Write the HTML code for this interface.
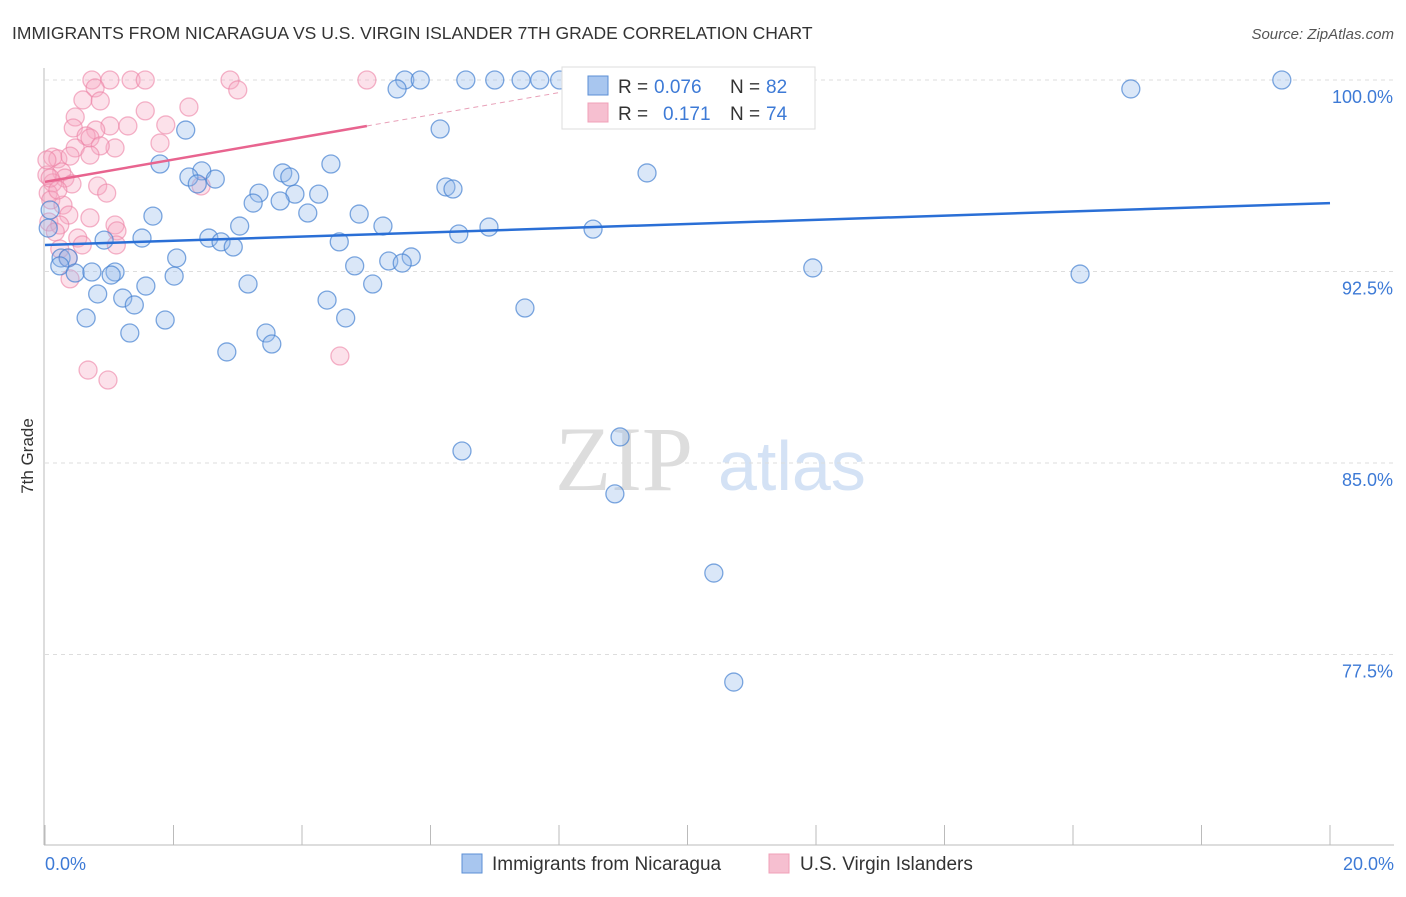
<!DOCTYPE html>
<html><head><meta charset="utf-8"><style>
body{margin:0;background:#fff;font-family:"Liberation Sans",sans-serif}
</style></head><body>
<svg id="chart" width="1406" height="892" xmlns="http://www.w3.org/2000/svg" font-family="Liberation Sans, sans-serif">
<text x="12" y="39" font-size="17.5" fill="#333">IMMIGRANTS FROM NICARAGUA VS U.S. VIRGIN ISLANDER 7TH GRADE CORRELATION CHART</text>
<text x="1394" y="39" font-size="15" fill="#555" text-anchor="end" font-style="italic">Source: ZipAtlas.com</text>
<g>
<text x="555" y="490" font-size="92" fill="#ddd" font-family="Liberation Serif, serif">ZIP</text>
<text x="718" y="490" font-size="70" fill="#d4e2f5">atlas</text>
</g>
<g id="grid"></g><g id="axes"></g><g id="marks"></g>
<text transform="translate(33,456) rotate(-90)" font-size="17" fill="#333" text-anchor="middle">7th Grade</text>
<g font-size="19">
<rect x="562" y="67" width="253" height="62" fill="#fff" stroke="#ddd"/>
<rect x="588" y="76" width="20" height="19" fill="#a8c6ef" stroke="#5b8fd6"/>
<text x="618" y="93" fill="#333">R =</text>
<text x="654" y="93" fill="#3d7ad6">0.076</text>
<text x="730" y="93" fill="#333">N =</text>
<text x="766" y="93" fill="#3d7ad6">82</text>
<rect x="588" y="103" width="20" height="19" fill="#f6bfd0" stroke="#f0a0b8"/>
<text x="618" y="120" fill="#333">R =</text>
<text x="663" y="120" fill="#3d7ad6">0.171</text>
<text x="730" y="120" fill="#333">N =</text>
<text x="766" y="120" fill="#3d7ad6">74</text>
</g>
<g>
<rect x="462" y="854" width="20" height="19" fill="#a8c6ef" stroke="#5b8fd6"/>
<text x="492" y="870" font-size="19" fill="#333">Immigrants from Nicaragua</text>
<rect x="769" y="854" width="20" height="19" fill="#f6bfd0" stroke="#f0a0b8"/>
<text x="800" y="870" font-size="19" fill="#333">U.S. Virgin Islanders</text>
</g>
</svg>
<script>
const blueX=[5.60,5.84,6.55,7.00,7.41,7.70,8.01,5.48,16.90,19.25,2.19,6.15,1.79,4.45,2.44,2.24,3.70,3.81,2.65,2.37,9.37,6.24,6.35,3.33,4.26,3.89,3.24,3.66,4.09,1.68,4.89,3.03,5.26,6.91,6.44,8.53,1.51,2.55,0.92,2.74,2.93,4.58,0.25,2.05,0.36,5.70,5.35,5.56,4.82,0.23,11.95,16.11,0.47,0.73,1.09,1.03,2.01,3.16,1.57,5.10,0.82,1.21,4.39,1.39,7.47,0.64,1.87,4.68,3.44,1.32,3.53,2.83,8.95,6.49,8.87,10.41,10.72,0.08,0.05];
const blueY=[100,100,100,100,100,100,100,99.65,99.65,100,98.04,98.08,96.71,96.71,96.44,96.20,96.36,96.20,96.12,95.93,96.36,95.81,95.73,95.57,95.53,95.53,95.18,95.26,94.79,94.67,94.75,94.28,94.28,94.24,93.97,94.16,93.81,93.81,93.73,93.66,93.46,93.66,93.03,93.03,93.03,93.07,92.91,92.83,92.72,92.72,92.64,92.40,92.44,92.48,92.48,92.36,92.32,92.01,91.93,92.01,91.62,91.46,91.38,91.19,91.07,90.68,90.60,90.68,90.09,90.09,89.66,89.35,86.02,85.47,83.79,80.69,76.42,94.91,94.20];
const pinkX=[0.73,1.34,1.56,2.88,5.01,10.46,1.01,3.00,0.78,0.59,0.86,2.24,1.56,0.47,1.88,1.29,1.01,0.79,0.44,0.64,0.70,1.79,1.09,0.47,0.86,0.70,0.12,0.20,0.39,0.26,0.03,0.31,0.12,0.42,0.82,0.96,2.43,0.05,0.09,0.28,0.70,0.37,1.09,0.06,0.23,0.16,1.12,0.51,0.58,1.11,0.23,0.36,0.39,0.67,0.98,4.59,0.03,0.08,0.20];
const pinkY=[100,100,100,100,100,100,100,99.61,99.69,99.22,99.18,98.94,98.79,98.55,98.24,98.20,98.20,98.04,98.12,97.81,97.73,97.53,97.34,97.34,97.42,97.06,96.98,96.91,97.02,96.40,96.28,96.16,95.97,95.93,95.85,95.57,95.85,95.57,95.30,95.10,94.60,94.71,94.32,94.44,94.32,94.05,94.09,93.81,93.54,93.54,93.38,93.03,92.21,88.64,88.25,89.19,96.87,96.16,95.69];
const blueTrend=[93.54,95.18];
const pinkTrend=[96.01,98.20,99.51];
const pinkTrendX=[0,5.01,8.01];
const yTicks=[100,92.5,85,77.5];
const yTickLabels=["100.0%","92.5%","85.0%","77.5%"];
const xTickCount=10;
const NS="http://www.w3.org/2000/svg";
const X=v=>45+v/20*1285;
const Y=v=>80+(100-v)/7.5*191.5;
function mk(p,t,a){const e=document.createElementNS(NS,t);for(const k in a)e.setAttribute(k,a[k]);document.getElementById(p).appendChild(e);return e;}
yTicks.forEach((t,i)=>{
 const l=mk('grid','line',{x1:45,x2:1394,y1:Y(t),y2:Y(t),stroke:'#ddd','stroke-dasharray':'4,4'});
 
 
 const tx=mk('axes','text',{x:1393,y:Y(t)+23,'font-size':18,fill:'#3d7ad6','text-anchor':'end'});
 tx.textContent=yTickLabels[i];
 
 
});
const ya=mk('axes','line',{x1:44,x2:44,y1:68,y2:845,stroke:'#bbb'});


const xa=mk('axes','line',{x1:44,x2:1394,y1:845,y2:845,stroke:'#bbb'});


for(let i=0;i<=xTickCount;i++){
 const t=mk('axes','line',{x1:X(i*2),x2:X(i*2),y1:825,y2:845,stroke:'#bbb'});
 
 
}
const x0=mk('axes','text',{x:45,y:870,'font-size':18,fill:'#3d7ad6'});x0.textContent='0.0%';


const x1=mk('axes','text',{x:1394,y:870,'font-size':18,fill:'#3d7ad6','text-anchor':'end'});x1.textContent='20.0%';


pinkX.forEach((v,i)=>{
 const c=mk('marks','circle',{cx:X(v),cy:Y(pinkY[i]),r:9,fill:'rgba(246,170,195,0.35)',stroke:'rgba(236,130,165,0.6)','stroke-width':1.3});
 
 
});
blueX.forEach((v,i)=>{
 const c=mk('marks','circle',{cx:X(v),cy:Y(blueY[i]),r:9,fill:'rgba(150,185,235,0.35)',stroke:'rgba(70,130,210,0.7)','stroke-width':1.3});
 
 
});
const bl=mk('marks','line',{x1:X(0),y1:Y(blueTrend[0]),x2:X(20),y2:Y(blueTrend[1]),stroke:'#2a6fd6','stroke-width':2.5});


const pl=mk('marks','line',{x1:X(pinkTrendX[0]),y1:Y(pinkTrend[0]),x2:X(pinkTrendX[1]),y2:Y(pinkTrend[1]),stroke:'#e8648f','stroke-width':2.5});


const pd=mk('marks','line',{x1:X(pinkTrendX[1]),y1:Y(pinkTrend[1]),x2:X(pinkTrendX[2]),y2:Y(pinkTrend[2]),stroke:'#e8a0b8','stroke-width':1,'stroke-dasharray':'5,4'});


</script>
</body></html>
